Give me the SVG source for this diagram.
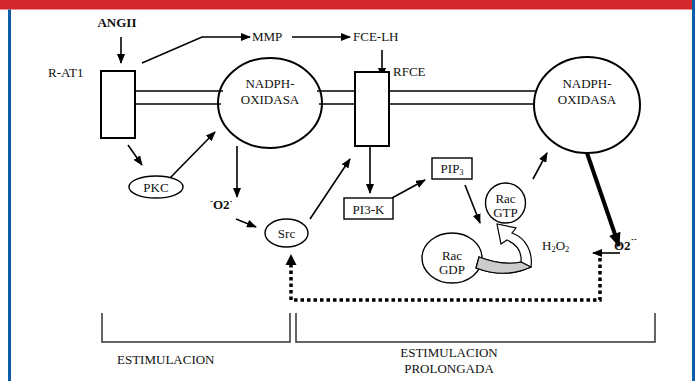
<svg xmlns="http://www.w3.org/2000/svg" width="699" height="381" viewBox="0 0 699 381">
<style>
text{font-family:"Liberation Serif","Times New Roman",serif}
.t{font-size:13px;fill:#111}
.b{font-weight:bold}
.ln{stroke:#000;stroke-width:1.6;fill:none}
.sh{stroke:#000;stroke-width:2;fill:#fff}
.th{stroke:#000;stroke-width:1.4;fill:#fff}
.br{stroke:#333;stroke-width:1.5;fill:none}
</style>
<defs>
<marker id="ah" markerWidth="10" markerHeight="8" refX="9" refY="4" orient="auto" markerUnits="userSpaceOnUse"><path d="M0,0 L10,4 L0,8 Z" fill="#000"/></marker>
<marker id="ahb" markerWidth="14" markerHeight="12" refX="13" refY="6" orient="auto" markerUnits="userSpaceOnUse"><path d="M0,0 L14,6 L0,12 Z" fill="#000"/></marker>
</defs>
<rect x="0" y="0" width="699" height="381" fill="#fff"/>
<rect x="0" y="0" width="692" height="9.5" fill="#d3262d"/>
<rect x="8" y="9.5" width="3" height="372" fill="#0d5ea6"/>
<rect x="692" y="0" width="3" height="381" fill="#0d5ea6"/>

<g id="connectors">
<line class="ln" x1="135" y1="91" x2="223" y2="91" stroke-width="2"/>
<line class="ln" x1="135" y1="104" x2="221" y2="104" stroke-width="2"/>
<line class="ln" x1="317" y1="91" x2="355" y2="91" stroke-width="2"/>
<line class="ln" x1="319" y1="104" x2="355" y2="104" stroke-width="2"/>
<line class="ln" x1="389" y1="91" x2="535" y2="91" stroke-width="2"/>
<line class="ln" x1="389" y1="104" x2="534" y2="104" stroke-width="2"/>
<line class="ln" x1="121" y1="37" x2="121" y2="63" marker-end="url(#ah)"/>
<polyline class="ln" points="142,63 202,37 250,37" marker-end="url(#ah)"/>
<line class="ln" x1="292" y1="37" x2="350" y2="37" marker-end="url(#ah)"/>
<line class="ln" x1="382" y1="50" x2="382" y2="77" marker-end="url(#ah)"/>
<line class="ln" x1="128" y1="145" x2="142" y2="165" marker-end="url(#ah)"/>
<line class="ln" x1="170" y1="178" x2="215" y2="132" marker-end="url(#ah)"/>
<line class="ln" x1="237" y1="146" x2="237" y2="197" stroke-width="2" marker-end="url(#ah)"/>
<line class="ln" x1="236" y1="219" x2="256" y2="227" marker-end="url(#ah)"/>
<line class="ln" x1="310" y1="219" x2="350" y2="159" marker-end="url(#ah)"/>
<line class="ln" x1="370" y1="146" x2="370" y2="193" marker-end="url(#ah)"/>
<line class="ln" x1="392" y1="198" x2="425" y2="180" marker-end="url(#ah)"/>
<line class="ln" x1="465" y1="185" x2="480" y2="223" marker-end="url(#ah)"/>
<line class="ln" x1="533" y1="179" x2="547" y2="153" marker-end="url(#ah)"/>
<line x1="587" y1="153" x2="619" y2="246" stroke="#000" stroke-width="4" marker-end="url(#ahb)"/>
<line class="ln" x1="620" y1="253" x2="593" y2="253" marker-end="url(#ah)"/>
<path d="M600,258 L600,300 L291,300 L291,265" fill="none" stroke="#000" stroke-width="3.5" stroke-dasharray="3.5,3"/>
<polygon points="291,254 285.5,265 296.5,265" fill="#000"/>
</g>

<g id="rat1">
<rect class="sh" x="101" y="71" width="34" height="67"/>
<text class="t" x="48" y="77" font-size="14">R-AT1</text>
</g>
<g id="angii"><text class="t b" x="117" y="27" text-anchor="middle">ANGII</text></g>
<g id="mmp"><text class="t" x="252" y="41" font-size="14">MMP</text></g>
<g id="fcelh"><text class="t" x="353" y="41">FCE-LH</text></g>
<g id="rfce">
<rect class="sh" x="355" y="72" width="34" height="74"/>
<text class="t" x="393" y="76">RFCE</text>
</g>
<g id="nadph1">
<ellipse cx="270" cy="103" rx="52" ry="45" fill="none" stroke="#000" stroke-width="2"/>
<text class="t" x="270" y="88" text-anchor="middle">NADPH-</text>
<text class="t" x="270" y="104" text-anchor="middle">OXIDASA</text>
</g>
<g id="nadph2">
<ellipse cx="587" cy="105" rx="53" ry="48" fill="none" stroke="#000" stroke-width="2"/>
<text class="t" x="587" y="88" text-anchor="middle">NADPH-</text>
<text class="t" x="587" y="104" text-anchor="middle">OXIDASA</text>
</g>
<g id="pkc">
<ellipse class="th" cx="156" cy="187" rx="27" ry="11"/>
<text class="t" x="156" y="192" text-anchor="middle">PKC</text>
</g>
<g id="o2a">
<text class="t b" x="210" y="209"><tspan font-size="9" dy="-5">-</tspan><tspan dy="5">O2</tspan><tspan font-size="9" dy="-5">·</tspan></text>
</g>
<g id="src">
<ellipse class="th" cx="286.5" cy="233" rx="21.5" ry="14"/>
<text class="t" x="286.5" y="238" text-anchor="middle" font-size="12.5">Src</text>
</g>
<g id="pi3k">
<rect class="th" x="344" y="198" width="49" height="21"/>
<text class="t" x="368.5" y="214" text-anchor="middle" font-size="12.5">PI3-K</text>
</g>
<g id="pip3">
<rect class="th" x="432" y="158" width="40" height="21"/>
<text class="t" x="452" y="173" text-anchor="middle" font-size="12">PIP<tspan font-size="8" dy="2">3</tspan></text>
</g>
<g id="racgtp">
<ellipse class="th" cx="505.5" cy="203" rx="20" ry="20"/>
<text class="t" x="505.5" y="203" text-anchor="middle" font-size="12.5">Rac</text>
<text class="t" x="505.5" y="217" text-anchor="middle" font-size="12.5">GTP</text>
</g>
<g id="racgdp">
<ellipse class="th" cx="452" cy="258" rx="30" ry="25"/>
<text class="t" x="452" y="260" text-anchor="middle" font-size="12.5">Rac</text>
<text class="t" x="452" y="274" text-anchor="middle" font-size="12.5">GDP</text>
</g>
<g id="cyclearrow">
<path d="M479,257 Q503,266 521,262 C522,251 516,244 507,240 L501,244 L497,224 L516,228 L512,233 C526,238 533,252 531,267 Q505,279 476,268 Z" fill="#fff" stroke="#000" stroke-width="1.2" stroke-linejoin="miter"/>
<path d="M479,257 Q503,266 521,262 L531,267 Q505,279 476,268 Z" fill="#cccccc" stroke="#000" stroke-width="1.2"/>
</g>
<g id="h2o2"><text class="t" x="542" y="250" font-size="12.5">H<tspan font-size="8.5" dy="2">2</tspan><tspan dy="-2">O</tspan><tspan font-size="8.5" dy="2">2</tspan></text></g>
<g id="o2b">
<text class="t b" x="614" y="250">O2<tspan font-size="9" dy="-8">·-</tspan></text>
</g>
<g id="brackets">
<polyline class="br" points="102,313 102,342 290,342 290,313"/>
<polyline class="br" points="296,313 296,342 655,342 655,313"/>
</g>
<g id="labels">
<text class="t" x="117" y="364">ESTIMULACION</text>
<text class="t" x="449" y="357" text-anchor="middle">ESTIMULACION</text>
<text class="t" x="449" y="373" text-anchor="middle">PROLONGADA</text>
</g>
</svg>
